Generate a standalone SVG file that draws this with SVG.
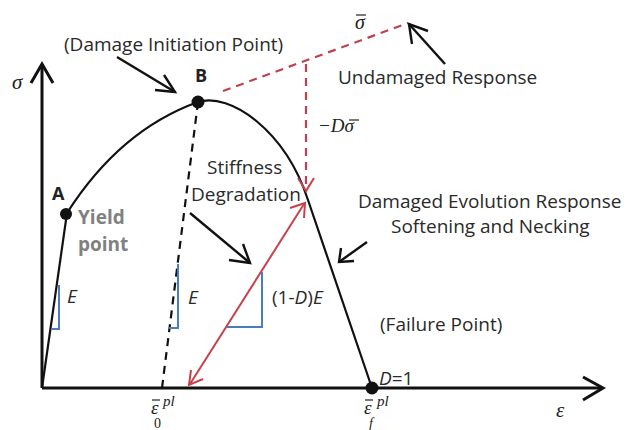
<svg xmlns="http://www.w3.org/2000/svg" width="630" height="430" viewBox="0 0 630 430">
<defs>
<style>
.t{font-family:"Open Sans","Liberation Sans",sans-serif;font-size:19px;fill:#2a2a2a}
.i{font-style:italic}
.m{font-family:"Liberation Serif","DejaVu Serif",serif;font-style:italic;fill:#222}
.g{font-family:"Open Sans","Liberation Sans",sans-serif;font-size:19px;font-weight:bold;fill:#808080}
.b{font-family:"Open Sans","Liberation Sans",sans-serif;font-size:18px;font-weight:bold;fill:#222}
.ax{stroke:#111;stroke-width:3;fill:none}
.crv{stroke:#111;stroke-width:2.2;fill:none}
.ptr{stroke:#111;stroke-width:2.4;fill:none}
.bar{stroke:#222;stroke-width:1.2;fill:none}
.blue{stroke:#4a7ebb;stroke-width:2;fill:none}
.red{stroke:#c8404c;stroke-width:2;fill:none}
.rdash{stroke:#c04050;stroke-width:2.2;fill:none;stroke-dasharray:8 6}
.kdash{stroke:#111;stroke-width:2.2;fill:none;stroke-dasharray:8 6}
.dot{fill:#111}
</style>
</defs>
<rect width="630" height="430" fill="#fff"/>

<g id="axes">
<path class="ax" d="M42,388 L42,64"/>
<path class="ax" d="M31,83 L42,64 L53,83"/>
<path class="ax" d="M42,388 L602,388"/>
<path class="ax" d="M583,377 L603,388 L583,400"/>
<text class="m" x="12" y="89" font-size="21">σ</text>
<text class="m" x="556" y="417" font-size="21">ε</text>
</g>

<g id="connectors">
<path class="crv" d="M42,388 L67,213"/>
<path class="crv" d="M67,213 Q120,130 198,102"/>
<path class="crv" d="M198,102 C230,92 285,130 308,200 L372,388"/>
<path class="kdash" d="M198,102 L162,388"/>
<path class="rdash" d="M223,91 L408,23"/>
<path class="rdash" d="M306,64 L306,188"/>
<path class="red" d="M298,178 L306,191 L314,178"/>
<path class="red" d="M190,384 L304,204"/>
<path class="red" d="M191,370 L189,385 L203,379"/>
<path class="red" d="M290,208 L305,203 L304,218"/>
<path class="ptr" d="M117,57 L175,92"/>
<path class="ptr" d="M155,90 L175,92 L164,75"/>
<path class="ptr" d="M445,64 L409,24"/>
<path class="ptr" d="M412,44 L409,24 L428,31"/>
<path class="ptr" d="M190,213 L250,263"/>
<path class="ptr" d="M229,260 L250,263 L243,244"/>
<path class="ptr" d="M367,242 L339,262"/>
<path class="ptr" d="M341,248 L339,262 L354,261"/>
<path class="blue" d="M59,285 L59,329 L52,329"/>
<path class="blue" d="M178,264 L178,328 L169,328"/>
<path class="blue" d="M262,272 L262,327 L227,327"/>
</g>

<g id="pointA">
<circle class="dot" cx="66" cy="214" r="6"/>
<text class="b" x="52" y="200">A</text>
<text class="g" x="78" y="224">Yield</text>
<text class="g" x="78" y="251">point</text>
<text class="t i" x="67" y="303" font-size="18">E</text>
</g>

<g id="pointB">
<circle class="dot" cx="198" cy="102" r="6.5"/>
<text class="b" x="195" y="82">B</text>
<text class="t" x="64" y="51">(Damage Initiation Point)</text>
</g>

<g id="undamaged">
<text class="m" x="355" y="29" font-size="20">σ</text>
<path class="bar" d="M356,15 L366,15"/>
<text class="t" x="338" y="84">Undamaged Response</text>
<text class="m" x="318" y="132" font-size="19">−Dσ</text>
<path class="bar" d="M349,120 L359,120"/>
</g>

<g id="stiffness">
<text class="t" x="207" y="174">Stiffness</text>
<text class="t" x="191" y="201">Degradation</text>
<text class="t i" x="188" y="304" font-size="18">E</text>
<text class="t" x="272" y="304">(1-<tspan class="i">D</tspan>)<tspan class="i">E</tspan></text>
</g>

<g id="damaged">
<text class="t" x="358" y="208">Damaged Evolution Response</text>
<text class="t" x="391" y="233">Softening and Necking</text>
</g>

<g id="failure">
<circle class="dot" cx="372" cy="388" r="6.5"/>
<text class="t" x="380" y="331">(Failure Point)</text>
<text class="t" x="379" y="385" font-size="16"><tspan class="i">D</tspan>=1</text>
</g>

<g id="eps0">
<text class="m" x="151" y="414" font-size="19">ε<tspan x="163" y="406" font-size="15">pl</tspan><tspan x="154" y="428" font-size="14" font-style="normal">0</tspan></text>
<path class="bar" d="M152,400 L160,400"/>
</g>

<g id="epsf">
<text class="m" x="364" y="414" font-size="19">ε<tspan x="377" y="406" font-size="15">pl</tspan><tspan x="369" y="428" font-size="14">f</tspan></text>
<path class="bar" d="M365,400 L373,400"/>
</g>
</svg>
